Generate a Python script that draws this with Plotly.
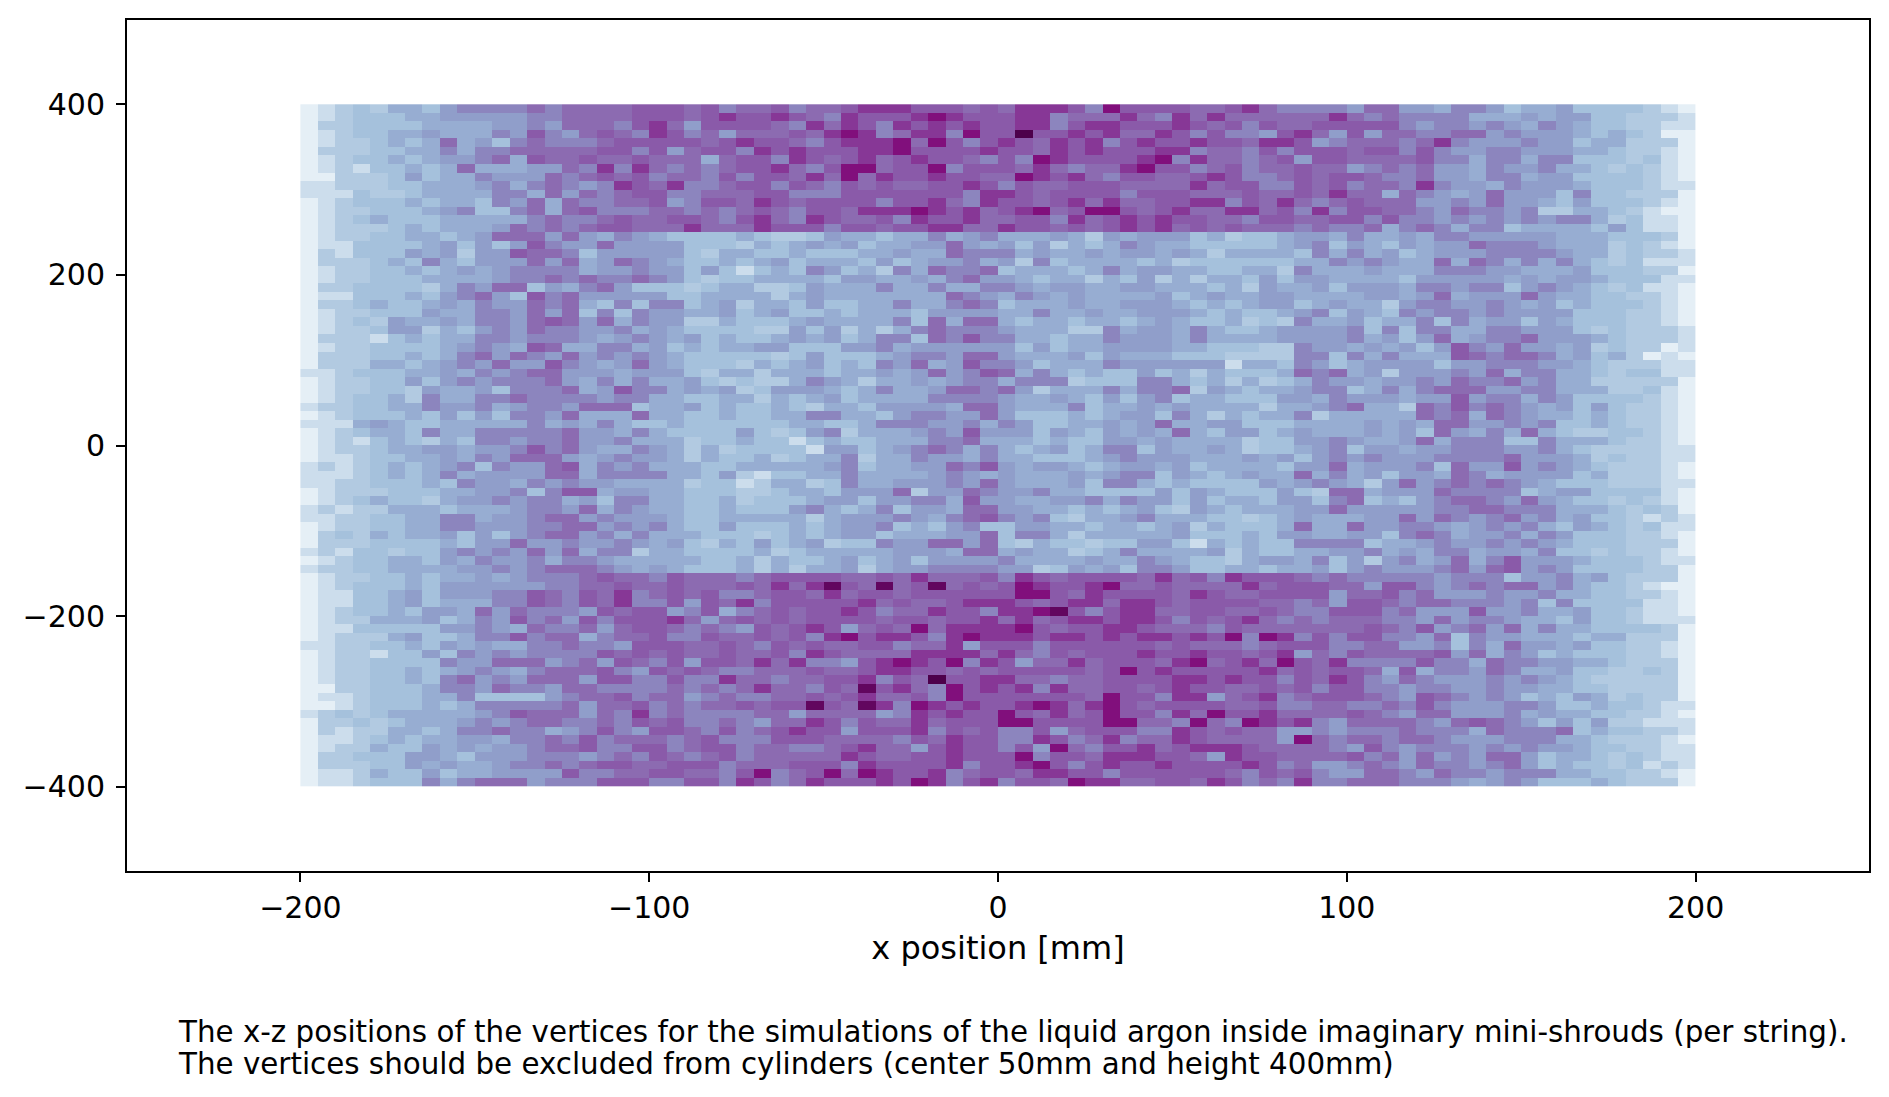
import plotly.graph_objects as go

# bin centres of the 2d histogram, 5 mm wide in x and 10 mm in z
x_centers = [-197.5 + 5 * i for i in range(80)]
z_centers = [395 - 10 * i for i in range(80)]

x_ticks = [-200, -100, 0, 100, 200]
z_ticks = [-400, -200, 0, 200, 400]

# counts, as one level per cell (top row first)
level_counts = {
    "0": 4, "1": 8, "2": 12, "3": 14, "4": 17, "5": 19,
    "6": 22, "7": 25, "8": 27, "9": 31, "X": 35, "Y": 38, "Z": 40,
}

rows = [
    "0123244356 6667677778 8878677867 7899988878 799986X888 8778976666 5775546653 4453333210",
    "0123334455 5556677778 8878988987 698889X988 8996777976 9797777779 7676666444 5455332221",
    "0223333444 4556577768 9758888769 7986989898 8996899888 9878687788 8886566565 4654332211",
    "0123344544 4658657876 9867577787 9X967996X8 8Z88989779 8686658975 8577667756 5554343200",
    "0122343474 5367666788 8887898876 8999X7X868 9879896898 8988799856 7776796555 6553442220",
    "0222334464 6677777886 8578869898 8899X88889 8879898889 9677686888 7886865566 5554432210",
    "0123343455 6748778778 7774788698 7897898876 86X988889X 6977678588 7777866466 4663332310",
    "0121334347 4445576969 7676788976 8XX788X688 87976779X8 8678677877 5676755465 5644323210",
    "0022235344 6555767878 6776868879 7X79889887 7X98976887 7898667878 8766755466 4553333210",
    "1122233444 5646765698 7966788687 6878778898 6877888777 7978866878 6776965546 5554333211",
    "1113223444 4664757678 8667778866 6888888869 9878888688 8777877879 7747654575 5536332220",
    "0123334344 3657476677 8568879878 8886889769 8878979778 8996879767 8777556575 5435333210",
    "0122333456 3367478666 7767678768 87999X9897 89X78XX878 9779978696 8877657665 6224432100",
    "0123433344 4446766787 7887689769 8778698897 7886978989 8877688778 8686656565 6566423110",
    "0122234344 4576767887 7797779888 6887889977 9887878989 7878777676 6746764663 4444353110",
    "0122334434 5777575465 4333343223 5443446456 4445425455 5342334554 6445466555 5544433320",
    "0113333453 5358655755 5533324345 4534455754 5352434654 4333334563 5435455766 6544423210",
    "0213335452 5587763555 5532443343 3344544766 6454454554 5424444364 6453455566 6654423221",
    "0222343643 5557574576 5433434534 4435345564 5263444434 2333333446 5654474764 6464323111",
    "0122334345 4566664556 5535313436 5342647667 3444346455 4433442644 4544466655 4445333220",
    "0122333444 4566767667 6532334444 3554454675 5434424352 4244353554 4443555554 5455433311",
    "0223333246 5773546753 3323442235 4446446446 6545544554 4434254453 5554665663 5654323110",
    "0113334356 7538675555 5334444245 4444444765 4654544445 3454455444 4554574555 7544332210",
    "0223433454 6557674363 6634524435 3344644676 3444544555 4343455345 4425665565 4534333210",
    "0122333544 6657573636 5544534533 4344435555 4464454455 5434334563 5436566565 5553332210",
    "0123254454 6657875746 5522433345 4444637477 4344344345 4334232644 5344636455 3543332210",
    "0122355243 5657665564 5433332253 5242467666 5444226455 4643345555 6363664466 5553232221",
    "0222134344 6656665456 5453433454 5346637686 6443446555 4644445555 6453574566 7555432221",
    "0122333345 6548744664 5343445533 3556455555 5353445555 4433322655 4545358657 5545232201",
    "0222334346 7576575656 5433333235 3334566577 5444535444 3332222663 6464448767 7645342010",
    "0222443456 5755865457 5433324345 3436574586 6534446555 5551443653 4555535566 6554322211",
    "1123334454 6567755545 5532442444 3445457568 7464343353 4243334767 4525556574 6644323311",
    "0122335356 5666754646 4453232246 5424454566 4666233366 4342423465 5455657667 5644222220",
    "0122332544 5366674586 6454523555 4346445776 7524446466 7254344566 3464677755 6644422310",
    "0123342644 6676666566 4433442434 5344446666 5445435356 3443335546 5554558566 4653333210",
    "1223344655 6456657773 4453433432 4435555477 5444634454 5444424456 7442768676 5453532210",
    "0123334353 5366574447 4433433446 6443566557 5333434553 6424344624 4444767476 5443432210",
    "1114543344 4446454643 3433333344 3346665564 6533445457 4455333444 4545477556 5633432210",
    "0123443644 6666675546 4333353235 6244456585 5535435454 7435534544 4545375464 7432233210",
    "0121343243 6656675564 4423343313 4334446674 4434335545 4444233556 5445746663 3644432210",
    "0122344554 5568675446 5424233331 5534567646 4345346635 4454233456 3554556665 5643222211",
    "0112334454 6577754565 5424334234 4624465546 4433345655 5444545356 5655566667 5554232211",
    "1212343456 3655784656 4443344444 5634455768 5455434554 5344443557 4555637558 5654322210",
    "1112343464 5555774666 6443521334 4644445654 5444545663 5434544746 4535547645 5553422210",
    "1122333436 5546565544 4423312442 3644555657 5444536643 4333354565 4257567676 5433322211",
    "0122233344 5563688455 4433322344 3555725576 5564433335 3543335327 7455576666 3455333310",
    "0123433245 5656645366 4433423334 5535566485 5445564655 3534435536 7343567765 7543323210",
    "1212244434 4456657465 4433433356 4346355477 5544343453 2543444557 5555566776 6644432320",
    "1122334466 4556775655 5433444442 4555654678 6563244564 4433234544 4557576567 5645332121",
    "0122334466 5556677565 6433533343 4556343563 3554434434 5243334744 7556654565 6435432311",
    "0232434453 5356775646 4443332343 4553444557 3664244444 5333435544 5536764556 4653332210",
    "0222333343 5575565565 4532435345 2336557757 3243323355 3143433666 6344565565 6543332220",
    "1213323356 5657574662 4433334234 4444555477 4544234644 4452433445 5645466455 4633232210",
    "0123344354 6556466544 4443342433 4534535555 6444454465 4332455463 5256457468 5554333211",
    "1223344445 5656777654 5433342424 4524556666 5523545366 5334434453 5655567578 5653333220",
    "0122334344 5456667877 6877767888 8778797778 6987888879 7869888767 6666656663 5564532220",
    "0123334355 5555667787 7877787979 Y87Y78Y787 8X9889X778 7777978887 7588656767 7564332100",
    "0113345355 5668768796 7878667887 9788788888 8XX8798888 7987788885 7786755565 5644332210",
    "0113345344 4668768796 6858796888 8897877899 9878997998 7888877675 8876776665 6363333110",
    "0123343554 7576665878 8568467878 8986779886 99XY868997 7887787668 8867555855 6445332110",
    "0122444534 6586758688 8975787878 8887887889 7978998998 6878976767 7766575665 4435332111",
    "0113333355 6547667578 8767658789 85787X7999 9X87889987 7768777777 7876856757 4644333320",
    "0122245334 6686774677 8668778786 9X899869X9 9989989899 898X6X9686 8866573655 4443442220",
    "1122334354 5446676658 8877876878 7788677958 8868888887 8777678886 6775563647 5545332210",
    "0122133536 5656666878 7877877869 8777799997 9768788898 8988789576 8777785746 5343332210",
    "0122333365 5777567587 6858879796 6589X98X69 8577978887 9X7897X879 6666866476 6554432220",
    "0122334345 6546777865 8787667778 7789988787 8888878X89 8888897878 8748466576 4453322320",
    "0122334367 5657775886 6866977677 889687Z889 9776778888 9989886879 8657655565 6543222220",
    "0022333466 5766577666 6767679776 87Y8976X89 8969778878 9887787868 8665665565 5443322220",
    "0112333446 3333567786 7756766778 7897786X88 888887X886 9957896788 8765876565 3435423220",
    "0012333434 6666675778 676778788Y 87Y96X9898 89X979X878 8887786677 6676865556 6533433211",
    "1232344444 5687775769 6766667757 7775698988 X87978X886 97X8897777 8765775556 4544332210",
    "0223234445 6567766768 7866765779 8687797888 XX8888XX77 6X76X98965 7777657876 5353522111",
    "0212244346 6766456865 8876867898 8588896878 6685788866 9878775565 6667666476 6673433221",
    "0112343445 5466768677 7678666888 7777687988 6698679677 9877775X76 7767765556 6644322210",
    "0122433545 4556778668 8678867766 7897758988 685X768897 8999877776 5865666565 6554332211",
    "0223335543 5556665676 8767867777 7987788988 8X68879998 8759887777 8675756577 5344323211",
    "0222335454 4566767887 7888677788 8698888968 89X8689889 8888986755 6765766567 5343323121",
    "0112433534 4555586677 887768X678 X7X9889678 8799886888 8887687865 5776576656 6644332210",
    "0112333646 7775666888 6688698679 88898X9689 6887X99778 8798676966 7776665456 5333432220",
]

caption_lines = [
    "The x-z positions of the vertices for the simulations of the liquid argon "
    "inside imaginary mini-shrouds (per string).",
    "The vertices should be excluded from cylinders (center 50mm and height 400mm)",
]

counts = [[level_counts[c] for c in row.replace(" ", "")] for row in rows]

# matplotlib BuPu
bupu = [
    "#f7fcfd", "#e0ecf4", "#bfd3e6", "#9ebcda", "#8c96c6",
    "#8c6bb1", "#88419d", "#810f7c", "#4d004b",
]

fig = go.Figure()

fig.add_trace(
    go.Heatmap(
        x=x_centers,
        y=z_centers,
        z=counts,
        zmin=0,
        zmax=40,
        colorscale=[[i / 8, c] for i, c in enumerate(bupu)],
        showscale=False,
    )
)

axis_style = dict(
    showgrid=False,
    zeroline=False,
    showline=False,
    ticks="outside",
    ticklen=9,
    tickwidth=2,
    tickcolor="black",
    tickfont=dict(size=30, color="black"),
)

fig.update_xaxes(
    range=[-250, 250],
    tickvals=x_ticks,
    ticklabelstandoff=0,
    title=dict(
        text="x position [mm]",
        font=dict(size=32, color="black"),
        standoff=12,
    ),
    **axis_style
)
fig.update_yaxes(
    range=[-500, 500],
    tickvals=z_ticks,
    ticklabelstandoff=5,
    **axis_style
)

# axes frame
fig.add_shape(
    type="rect",
    xref="paper",
    yref="paper",
    x0=0,
    x1=1,
    y0=0,
    y1=1,
    line=dict(color="black", width=2),
    layer="above",
)

for line_text, line_y in zip(caption_lines, [-0.1878, -0.2247]):
    fig.add_annotation(
        xref="paper",
        yref="paper",
        x=0.0284,
        y=line_y,
        xanchor="left",
        yanchor="middle",
        align="left",
        showarrow=False,
        text=line_text,
        font=dict(size=29.35, color="black"),
    )

fig.update_layout(
    width=1889,
    height=1097,
    font=dict(family="DejaVu Sans"),
    paper_bgcolor="white",
    plot_bgcolor="white",
    margin=dict(l=126, r=19, t=19, b=225),
)

fig.write_html(
    "out.html",
    config=dict(displayModeBar=False),
    post_script="document.body.style.margin='0';document.body.style.overflow='hidden';",
)
